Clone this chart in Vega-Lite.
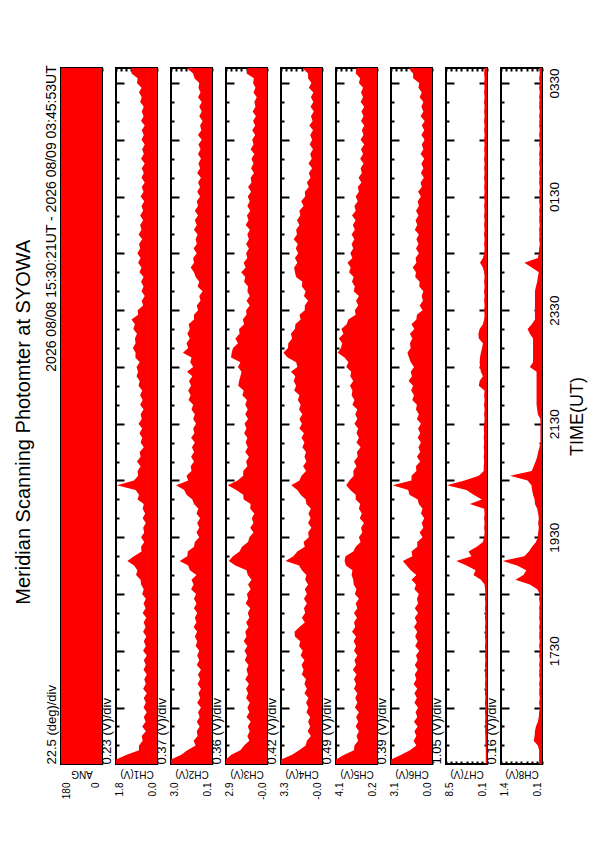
{
"$schema": "https://vega.github.io/schema/vega-lite/v6.json",
"padding": {"left": 13, "top": 64, "right": 5, "bottom": 5},
"background": "white",
"title": {"text": "Meridian Scanning Photomter at SYOWA", "orient": "left", "anchor": "middle", "fontSize": 20, "offset": 10, "dx": 10},
"datasets": {
"ang": [{"m":0.35,"ang":180},{"m":735.88,"ang":180}],
"d": [
{"m":0,"c1":1.8,"c2":3.03,"c3":2.86,"c4":3.32,"c5":4.09,"c6":3.12,"c7":0.35,"c8":0.19},
{"m":5,"c1":1.8,"c2":3.03,"c3":2.86,"c4":3.32,"c5":4.09,"c6":3.12,"c7":0.35,"c8":0.19},
{"m":10,"c1":1.33,"c2":2.29,"c3":2.49,"c4":2.41,"c5":3.31,"c6":2.34,"c7":0.35,"c8":0.19},
{"m":15,"c1":0.79,"c2":1.85,"c3":1.85,"c4":1.84,"c5":2.37,"c6":1.68,"c7":0.35,"c8":0.19},
{"m":20,"c1":0.79,"c2":1.25,"c3":1.59,"c4":1.30,"c5":2.33,"c6":1.19,"c7":0.4,"c8":0.23},
{"m":25,"c1":0.63,"c2":1.40,"c3":1.22,"c4":1.20,"c5":1.97,"c6":1.40,"c7":0.44,"c8":0.36},
{"m":30,"c1":0.67,"c2":1.11,"c3":1.36,"c4":0.87,"c5":2.13,"c6":1.19,"c7":0.44,"c8":0.33},
{"m":35,"c1":0.49,"c2":1.17,"c3":1.19,"c4":1.14,"c5":1.90,"c6":1.34,"c7":0.5,"c8":0.32},
{"m":40,"c1":0.65,"c2":0.96,"c3":1.33,"c4":0.93,"c5":2.21,"c6":1.09,"c7":0.44,"c8":0.29},
{"m":45,"c1":0.50,"c2":1.17,"c3":1.13,"c4":1.10,"c5":1.97,"c6":1.37,"c7":0.5,"c8":0.23},
{"m":50,"c1":0.58,"c2":0.96,"c3":1.42,"c4":0.93,"c5":2.17,"c6":1.12,"c7":0.44,"c8":0.20},
{"m":55,"c1":0.45,"c2":1.08,"c3":1.22,"c4":1.24,"c5":1.90,"c6":1.25,"c7":0.52,"c8":0.19},
{"m":60,"c1":0.59,"c2":0.87,"c3":1.36,"c4":1.07,"c5":2.29,"c6":1.06,"c7":0.44,"c8":0.17},
{"m":65,"c1":0.49,"c2":1.14,"c3":1.19,"c4":1.27,"c5":2.05,"c6":1.34,"c7":0.52,"c8":0.19},
{"m":70,"c1":0.58,"c2":0.93,"c3":1.45,"c4":1.07,"c5":2.25,"c6":1.15,"c7":0.44,"c8":0.17},
{"m":75,"c1":0.45,"c2":1.05,"c3":1.31,"c4":1.40,"c5":2.05,"c6":1.34,"c7":0.52,"c8":0.19},
{"m":80,"c1":0.61,"c2":0.87,"c3":1.45,"c4":1.20,"c5":2.37,"c6":1.12,"c7":0.44,"c8":0.17},
{"m":85,"c1":0.49,"c2":1.11,"c3":1.25,"c4":1.40,"c5":2.17,"c6":1.40,"c7":0.52,"c8":0.19},
{"m":90,"c1":0.56,"c2":0.93,"c3":1.51,"c4":1.27,"c5":2.37,"c6":1.19,"c7":0.44,"c8":0.17},
{"m":95,"c1":0.45,"c2":1.08,"c3":1.31,"c4":1.61,"c5":2.13,"c6":1.31,"c7":0.52,"c8":0.19},
{"m":100,"c1":0.59,"c2":0.87,"c3":1.42,"c4":1.47,"c5":2.48,"c6":1.09,"c7":0.44,"c8":0.17},
{"m":105,"c1":0.49,"c2":1.17,"c3":1.28,"c4":1.64,"c5":2.17,"c6":1.31,"c7":0.52,"c8":0.19},
{"m":110,"c1":0.58,"c2":0.99,"c3":1.54,"c4":1.40,"c5":2.33,"c6":1.09,"c7":0.44,"c8":0.17},
{"m":115,"c1":0.45,"c2":1.14,"c3":1.39,"c4":1.71,"c5":2.05,"c6":1.22,"c7":0.52,"c8":0.19},
{"m":120,"c1":0.61,"c2":0.99,"c3":1.56,"c4":1.54,"c5":2.37,"c6":0.97,"c7":0.44,"c8":0.17},
{"m":125,"c1":0.49,"c2":1.25,"c3":1.36,"c4":1.84,"c5":2.17,"c6":1.28,"c7":0.52,"c8":0.19},
{"m":130,"c1":0.58,"c2":1.14,"c3":1.62,"c4":1.74,"c5":2.40,"c6":1.09,"c7":0.44,"c8":0.17},
{"m":135,"c1":0.47,"c2":1.31,"c3":1.42,"c4":2.18,"c5":2.17,"c6":1.28,"c7":0.52,"c8":0.19},
{"m":140,"c1":0.61,"c2":1.14,"c3":1.51,"c4":2.21,"c5":2.56,"c6":1.12,"c7":0.44,"c8":0.17},
{"m":145,"c1":0.50,"c2":1.40,"c3":1.28,"c4":1.81,"c5":2.25,"c6":1.37,"c7":0.52,"c8":0.19},
{"m":150,"c1":0.59,"c2":1.19,"c3":1.45,"c4":1.37,"c5":2.37,"c6":1.15,"c7":0.44,"c8":0.17},
{"m":155,"c1":0.47,"c2":1.31,"c3":1.22,"c4":1.61,"c5":2.09,"c6":1.31,"c7":0.52,"c8":0.19},
{"m":160,"c1":0.63,"c2":1.14,"c3":1.33,"c4":1.34,"c5":2.37,"c6":1.06,"c7":0.44,"c8":0.17},
{"m":165,"c1":0.50,"c2":1.37,"c3":1.16,"c4":1.44,"c5":2.05,"c6":1.31,"c7":0.52,"c8":0.19},
{"m":170,"c1":0.59,"c2":1.19,"c3":1.48,"c4":1.20,"c5":2.21,"c6":1.06,"c7":0.44,"c8":0.17},
{"m":175,"c1":0.49,"c2":1.37,"c3":1.31,"c4":1.44,"c5":1.90,"c6":1.15,"c7":0.52,"c8":0.19},
{"m":180,"c1":0.65,"c2":1.22,"c3":1.39,"c4":1.20,"c5":2.29,"c6":1.00,"c7":0.44,"c8":0.17},
{"m":185,"c1":0.58,"c2":1.58,"c3":1.13,"c4":1.37,"c5":2.13,"c6":1.34,"c7":0.5,"c8":0.25},
{"m":190,"c1":0.70,"c2":1.40,"c3":1.31,"c4":1.10,"c5":2.40,"c6":1.22,"c7":0.6,"c8":0.48},
{"m":195,"c1":0.72,"c2":1.55,"c3":1.07,"c4":1.34,"c5":2.44,"c6":1.56,"c7":1.36,"c8":0.93},
{"m":200,"c1":0.92,"c2":1.19,"c3":1.33,"c4":1.24,"c5":2.60,"c6":1.19,"c7":2.87,"c8":0.68},
{"m":205,"c1":0.86,"c2":1.67,"c3":1.42,"c4":1.61,"c5":2.52,"c6":1.62,"c7":2.45,"c8":0.59},
{"m":210,"c1":1.01,"c2":1.79,"c3":2.20,"c4":1.84,"c5":3.15,"c6":1.93,"c7":4.3,"c8":0.88},
{"m":215,"c1":1.30,"c2":2.41,"c3":2.66,"c4":2.95,"c5":3.27,"c6":2.22,"c7":6.4,"c8":1.33},
{"m":220,"c1":1.01,"c2":1.85,"c3":2.37,"c4":2.31,"c5":3.19,"c6":1.50,"c7":3.29,"c8":0.65},
{"m":225,"c1":0.68,"c2":1.82,"c3":1.91,"c4":1.98,"c5":2.44,"c6":1.56,"c7":3.88,"c8":0.51},
{"m":230,"c1":0.70,"c2":1.37,"c3":1.74,"c4":1.37,"c5":2.21,"c6":1.12,"c7":2.2,"c8":0.41},
{"m":235,"c1":0.56,"c2":1.31,"c3":1.31,"c4":1.47,"c5":1.74,"c6":1.12,"c7":0.94,"c8":0.29},
{"m":240,"c1":0.70,"c2":0.99,"c3":1.22,"c4":1.04,"c5":1.90,"c6":0.72,"c7":0.69,"c8":0.23},
{"m":245,"c1":0.56,"c2":1.19,"c3":0.93,"c4":1.10,"c5":1.58,"c6":0.94,"c7":0.6,"c8":0.22},
{"m":250,"c1":0.61,"c2":0.99,"c3":1.16,"c4":0.83,"c5":1.70,"c6":0.66,"c7":0.69,"c8":0.2},
{"m":255,"c1":0.49,"c2":1.14,"c3":0.93,"c4":1.10,"c5":1.42,"c6":0.78,"c7":0.6,"c8":0.22},
{"m":260,"c1":0.63,"c2":0.93,"c3":1.05,"c4":0.90,"c5":1.82,"c6":0.59,"c7":0.69,"c8":0.2},
{"m":265,"c1":0.52,"c2":1.19,"c3":0.87,"c4":1.07,"c5":1.62,"c6":0.84,"c7":0.6,"c8":0.22},
{"m":270,"c1":0.63,"c2":1.05,"c3":1.16,"c4":0.87,"c5":1.90,"c6":0.72,"c7":0.69,"c8":0.25},
{"m":275,"c1":0.58,"c2":1.37,"c3":1.13,"c4":1.24,"c5":1.78,"c6":1.00,"c7":3.63,"c8":0.32},
{"m":280,"c1":0.85,"c2":1.49,"c3":1.62,"c4":1.30,"c5":2.21,"c6":1.09,"c7":1.15,"c8":0.33},
{"m":285,"c1":0.79,"c2":1.91,"c3":1.65,"c4":1.71,"c5":2.21,"c6":1.72,"c7":2.87,"c8":0.38},
{"m":290,"c1":0.94,"c2":2.08,"c3":2.14,"c4":1.98,"c5":2.72,"c6":1.81,"c7":4.3,"c8":0.41},
{"m":295,"c1":1.76,"c2":2.66,"c3":2.74,"c4":2.48,"c5":3.11,"c6":3.0,"c7":8.33,"c8":0.43},
{"m":300,"c1":1.01,"c2":1.79,"c3":2.05,"c4":1.81,"c5":2.80,"c6":1.56,"c7":4.72,"c8":0.55},
{"m":305,"c1":0.83,"c2":1.91,"c3":1.65,"c4":1.64,"c5":2.40,"c6":1.56,"c7":1.78,"c8":1.1},
{"m":310,"c1":0.85,"c2":1.55,"c3":1.65,"c4":1.27,"c5":2.44,"c6":1.19,"c7":0.77,"c8":0.42},
{"m":315,"c1":0.72,"c2":1.61,"c3":1.36,"c4":1.51,"c5":2.13,"c6":1.22,"c7":0.77,"c8":0.36},
{"m":320,"c1":0.88,"c2":1.37,"c3":1.45,"c4":1.24,"c5":2.37,"c6":0.90,"c7":0.69,"c8":0.30},
{"m":325,"c1":0.72,"c2":1.58,"c3":1.25,"c4":1.40,"c5":2.01,"c6":1.15,"c7":0.77,"c8":0.25},
{"m":330,"c1":0.76,"c2":1.37,"c3":1.51,"c4":1.27,"c5":2.09,"c6":0.90,"c7":0.69,"c8":0.22},
{"m":335,"c1":0.58,"c2":1.52,"c3":1.33,"c4":1.57,"c5":1.74,"c6":1.03,"c7":0.77,"c8":0.18},
{"m":340,"c1":0.72,"c2":1.31,"c3":1.48,"c4":1.40,"c5":2.13,"c6":0.84,"c7":0.69,"c8":0.15},
{"m":345,"c1":0.65,"c2":1.58,"c3":1.36,"c4":1.64,"c5":1.90,"c6":1.09,"c7":0.77,"c8":0.15},
{"m":350,"c1":0.77,"c2":1.34,"c3":1.59,"c4":1.44,"c5":2.13,"c6":0.90,"c7":0.69,"c8":0.15},
{"m":355,"c1":0.65,"c2":1.43,"c3":1.42,"c4":1.81,"c5":1.97,"c6":1.06,"c7":0.77,"c8":0.15},
{"m":360,"c1":0.81,"c2":1.22,"c3":1.56,"c4":1.61,"c5":2.33,"c6":0.84,"c7":0.69,"c8":0.15},
{"m":365,"c1":0.67,"c2":1.43,"c3":1.31,"c4":1.81,"c5":2.05,"c6":1.15,"c7":0.6,"c8":0.15},
{"m":370,"c1":0.72,"c2":1.31,"c3":1.51,"c4":1.57,"c5":2.25,"c6":1.00,"c7":0.69,"c8":0.23},
{"m":375,"c1":0.59,"c2":1.55,"c3":1.33,"c4":1.84,"c5":2.05,"c6":1.22,"c7":0.6,"c8":0.25},
{"m":380,"c1":0.74,"c2":1.43,"c3":1.51,"c4":1.71,"c5":2.52,"c6":1.15,"c7":0.69,"c8":0.27},
{"m":385,"c1":0.63,"c2":1.76,"c3":1.39,"c4":1.94,"c5":2.33,"c6":1.50,"c7":0.6,"c8":0.27},
{"m":390,"c1":0.74,"c2":1.61,"c3":1.71,"c4":1.81,"c5":2.60,"c6":1.37,"c7":0.69,"c8":0.27},
{"m":395,"c1":0.65,"c2":1.79,"c3":1.62,"c4":2.24,"c5":2.52,"c6":1.59,"c7":0.6,"c8":0.27},
{"m":400,"c1":0.81,"c2":1.58,"c3":2.00,"c4":2.08,"c5":2.76,"c6":1.44,"c7":1.78,"c8":0.27},
{"m":405,"c1":0.76,"c2":1.73,"c3":1.94,"c4":2.28,"c5":2.44,"c6":1.78,"c7":1.61,"c8":0.27},
{"m":410,"c1":0.90,"c2":1.49,"c3":1.85,"c4":2.14,"c5":2.72,"c6":1.53,"c7":0.94,"c8":0.27},
{"m":415,"c1":0.83,"c2":1.88,"c3":1.77,"c4":2.51,"c5":2.64,"c6":1.62,"c7":1.36,"c8":0.27},
{"m":420,"c1":0.90,"c2":1.43,"c3":2.02,"c4":1.98,"c5":3.11,"c6":1.37,"c7":1.53,"c8":0.48},
{"m":425,"c1":0.76,"c2":1.64,"c3":1.85,"c4":2.08,"c5":2.91,"c6":1.62,"c7":1.61,"c8":0.38},
{"m":430,"c1":0.95,"c2":1.55,"c3":2.51,"c4":2.78,"c5":3.27,"c6":1.75,"c7":1.53,"c8":0.38},
{"m":435,"c1":0.94,"c2":2.17,"c3":2.46,"c4":3.12,"c5":3.93,"c6":1.87,"c7":1.36,"c8":0.38},
{"m":440,"c1":1.06,"c2":1.79,"c3":2.37,"c4":2.75,"c5":3.62,"c6":1.62,"c7":1.11,"c8":0.38},
{"m":445,"c1":0.94,"c2":1.91,"c3":2.02,"c4":2.72,"c5":3.50,"c6":1.68,"c7":0.94,"c8":0.38},
{"m":450,"c1":0.97,"c2":1.67,"c3":2.20,"c4":2.41,"c5":3.82,"c6":1.50,"c7":1.78,"c8":0.38},
{"m":455,"c1":0.88,"c2":1.85,"c3":1.91,"c4":2.51,"c5":3.38,"c6":1.68,"c7":1.86,"c8":0.48},
{"m":460,"c1":1.04,"c2":1.67,"c3":1.94,"c4":2.18,"c5":3.58,"c6":1.34,"c7":1.61,"c8":0.55},
{"m":465,"c1":0.97,"c2":1.76,"c3":1.59,"c4":2.14,"c5":3.07,"c6":1.56,"c7":0.94,"c8":0.42},
{"m":470,"c1":1.12,"c2":1.37,"c3":1.68,"c4":1.71,"c5":2.91,"c6":1.19,"c7":0.69,"c8":0.32},
{"m":475,"c1":0.83,"c2":1.37,"c3":1.42,"c4":1.81,"c5":2.21,"c6":1.15,"c7":0.6,"c8":0.32},
{"m":480,"c1":0.85,"c2":1.08,"c3":1.45,"c4":1.37,"c5":2.29,"c6":0.72,"c7":0.69,"c8":0.32},
{"m":485,"c1":0.61,"c2":1.17,"c3":1.19,"c4":1.37,"c5":1.97,"c6":0.94,"c7":0.6,"c8":0.32},
{"m":490,"c1":0.67,"c2":0.90,"c3":1.42,"c4":1.10,"c5":2.17,"c6":0.69,"c7":0.69,"c8":0.32},
{"m":495,"c1":0.54,"c2":0.99,"c3":1.19,"c4":1.44,"c5":1.90,"c6":0.78,"c7":0.6,"c8":0.32},
{"m":500,"c1":0.68,"c2":0.75,"c3":1.36,"c4":1.30,"c5":2.40,"c6":0.66,"c7":0.69,"c8":0.32},
{"m":505,"c1":0.59,"c2":1.11,"c3":1.31,"c4":1.61,"c5":2.29,"c6":0.97,"c7":0.6,"c8":0.29},
{"m":510,"c1":0.70,"c2":0.99,"c3":1.59,"c4":1.57,"c5":2.56,"c6":0.94,"c7":0.69,"c8":0.25},
{"m":515,"c1":0.59,"c2":1.25,"c3":1.51,"c4":2.08,"c5":2.40,"c6":1.28,"c7":0.6,"c8":0.23},
{"m":520,"c1":0.77,"c2":1.37,"c3":1.79,"c4":2.18,"c5":2.84,"c6":1.22,"c7":0.69,"c8":0.20},
{"m":525,"c1":0.68,"c2":1.61,"c3":1.48,"c4":2.24,"c5":2.68,"c6":1.47,"c7":0.94,"c8":0.42},
{"m":530,"c1":0.83,"c2":1.37,"c3":1.62,"c4":1.98,"c5":2.99,"c6":1.19,"c7":1.53,"c8":0.65},
{"m":535,"c1":0.72,"c2":1.43,"c3":1.36,"c4":2.18,"c5":2.52,"c6":1.25,"c7":0.94,"c8":0.23},
{"m":540,"c1":0.86,"c2":1.17,"c3":1.45,"c4":1.91,"c5":2.72,"c6":1.00,"c7":0.69,"c8":0.20},
{"m":545,"c1":0.74,"c2":1.40,"c3":1.25,"c4":2.11,"c5":2.44,"c6":1.22,"c7":0.6,"c8":0.19},
{"m":550,"c1":0.79,"c2":1.17,"c3":1.45,"c4":1.94,"c5":2.60,"c6":1.03,"c7":0.69,"c8":0.17},
{"m":555,"c1":0.65,"c2":1.25,"c3":1.25,"c4":2.28,"c5":2.33,"c6":1.19,"c7":0.6,"c8":0.19},
{"m":560,"c1":0.81,"c2":1.11,"c3":1.36,"c4":2.01,"c5":2.60,"c6":1.00,"c7":0.69,"c8":0.17},
{"m":565,"c1":0.68,"c2":1.37,"c3":1.19,"c4":2.08,"c5":2.29,"c6":1.31,"c7":0.6,"c8":0.19},
{"m":570,"c1":0.74,"c2":1.17,"c3":1.48,"c4":1.81,"c5":2.48,"c6":1.12,"c7":0.69,"c8":0.17},
{"m":575,"c1":0.61,"c2":1.31,"c3":1.28,"c4":2.01,"c5":2.21,"c6":1.25,"c7":0.6,"c8":0.19},
{"m":580,"c1":0.74,"c2":1.08,"c3":1.39,"c4":1.74,"c5":2.56,"c6":1.03,"c7":0.69,"c8":0.17},
{"m":585,"c1":0.61,"c2":1.31,"c3":1.16,"c4":1.81,"c5":2.21,"c6":1.22,"c7":0.6,"c8":0.19},
{"m":590,"c1":0.68,"c2":1.08,"c3":1.36,"c4":1.47,"c5":2.33,"c6":1.00,"c7":0.69,"c8":0.17},
{"m":595,"c1":0.56,"c2":1.17,"c3":1.19,"c4":1.67,"c5":2.01,"c6":1.09,"c7":0.6,"c8":0.19},
{"m":600,"c1":0.72,"c2":0.93,"c3":1.33,"c4":1.34,"c5":2.21,"c6":0.84,"c7":0.69,"c8":0.17},
{"m":605,"c1":0.59,"c2":1.14,"c3":1.10,"c4":1.37,"c5":1.90,"c6":1.06,"c7":0.6,"c8":0.19},
{"m":610,"c1":0.67,"c2":0.93,"c3":1.31,"c4":1.04,"c5":2.01,"c6":0.78,"c7":0.69,"c8":0.17},
{"m":615,"c1":0.54,"c2":1.08,"c3":1.07,"c4":1.20,"c5":1.66,"c6":0.87,"c7":0.6,"c8":0.19},
{"m":620,"c1":0.68,"c2":0.87,"c3":1.13,"c4":0.90,"c5":1.93,"c6":0.62,"c7":0.69,"c8":0.17},
{"m":625,"c1":0.58,"c2":1.14,"c3":0.90,"c4":1.04,"c5":1.62,"c6":0.84,"c7":0.6,"c8":0.19},
{"m":630,"c1":0.67,"c2":0.93,"c3":1.10,"c4":0.77,"c5":1.74,"c6":0.66,"c7":0.69,"c8":0.17},
{"m":635,"c1":0.54,"c2":1.05,"c3":0.93,"c4":1.07,"c5":1.46,"c6":0.81,"c7":0.6,"c8":0.19},
{"m":640,"c1":0.70,"c2":0.87,"c3":1.07,"c4":0.80,"c5":1.78,"c6":0.59,"c7":0.69,"c8":0.17},
{"m":645,"c1":0.58,"c2":1.08,"c3":0.87,"c4":0.93,"c5":1.50,"c6":0.87,"c7":0.6,"c8":0.19},
{"m":650,"c1":0.65,"c2":0.90,"c3":1.13,"c4":0.70,"c5":1.70,"c6":0.66,"c7":0.69,"c8":0.17},
{"m":655,"c1":0.54,"c2":1.05,"c3":0.93,"c4":0.97,"c5":1.39,"c6":0.78,"c7":0.6,"c8":0.19},
{"m":660,"c1":0.68,"c2":0.81,"c3":1.02,"c4":0.77,"c5":1.74,"c6":0.56,"c7":0.69,"c8":0.17},
{"m":665,"c1":0.58,"c2":1.08,"c3":0.81,"c4":0.93,"c5":1.46,"c6":0.81,"c7":0.6,"c8":0.19},
{"m":670,"c1":0.67,"c2":0.84,"c3":1.02,"c4":0.70,"c5":1.62,"c6":0.59,"c7":0.69,"c8":0.17},
{"m":675,"c1":0.54,"c2":0.93,"c3":0.81,"c4":1.00,"c5":1.39,"c6":0.78,"c7":0.6,"c8":0.19},
{"m":680,"c1":0.70,"c2":0.75,"c3":0.96,"c4":0.73,"c5":1.70,"c6":0.56,"c7":0.69,"c8":0.17},
{"m":685,"c1":0.59,"c2":0.99,"c3":0.76,"c4":0.87,"c5":1.46,"c6":0.87,"c7":0.6,"c8":0.19},
{"m":690,"c1":0.67,"c2":0.81,"c3":0.99,"c4":0.63,"c5":1.66,"c6":0.66,"c7":0.69,"c8":0.17},
{"m":695,"c1":0.58,"c2":0.99,"c3":0.79,"c4":0.90,"c5":1.39,"c6":0.81,"c7":0.6,"c8":0.19},
{"m":700,"c1":0.74,"c2":0.81,"c3":0.87,"c4":0.67,"c5":1.74,"c6":0.66,"c7":0.69,"c8":0.17},
{"m":705,"c1":0.67,"c2":1.08,"c3":0.70,"c4":0.87,"c5":1.50,"c6":0.94,"c7":0.6,"c8":0.19},
{"m":710,"c1":0.79,"c2":0.90,"c3":0.93,"c4":0.67,"c5":1.70,"c6":0.78,"c7":0.69,"c8":0.17},
{"m":715,"c1":0.68,"c2":1.05,"c3":0.79,"c4":1.04,"c5":1.50,"c6":1.03,"c7":0.6,"c8":0.19},
{"m":720,"c1":0.88,"c2":0.99,"c3":0.96,"c4":0.83,"c5":1.90,"c6":0.97,"c7":0.69,"c8":0.17},
{"m":725,"c1":0.85,"c2":1.34,"c3":0.90,"c4":1.10,"c5":1.78,"c6":1.44,"c7":0.6,"c8":0.19},
{"m":730,"c1":1.12,"c2":1.43,"c3":1.42,"c4":1.10,"c5":2.21,"c6":1.44,"c7":0.69,"c8":0.17},
{"m":735,"c1":1.13,"c2":1.85,"c3":1.36,"c4":1.51,"c5":2.13,"c6":1.75,"c7":0.6,"c8":0.19},
{"m":736,"c1":1.13,"c2":1.85,"c3":1.36,"c4":1.51,"c5":2.13,"c6":1.75,"c7":0.6,"c8":0.19}
]},
"spacing": 14,
"bounds": "flush",
"hconcat": [
{"width": 41, "height": 696, "data": {"name": "ang"},
 "title": {"text": "2026 08/08 15:30:21UT - 2026 08/09 03:45:53UT", "orient": "left", "anchor": "end", "fontSize": 14, "offset": -14},
 "layer": [
  {"mark": {"type": "area", "orient": "horizontal", "color": "#ff0000", "clip": true},
   "encoding": {
    "y": {"field": "m", "type": "quantitative", "scale": {"domain": [0.35, 735.88], "nice": false, "zero": false},
      "axis": {"orient": "left", "tickCount": 37, "tickSize": {"condition": {"test": "datum.value % 60 === 0", "value": -8}, "value": -3}, "title": "22.5 (deg)/div"}},
    "x": {"field": "ang", "type": "quantitative", "stack": null, "scale": {"domain": [0, 180], "reverse": true, "nice": false, "zero": false},
      "axis": {"orient": "bottom", "values": [0,22.5,45,67.5,90,112.5,135,157.5,180], "labelExpr": "datum.index == 0 ? '0' : datum.index == 1 ? '180' : ''", "labelOffset": {"condition": {"test": "datum.index == 0", "value": -7}, "value": 5}, "title": "ANG"}},
    "x2": {"datum": 0}}},
  {"mark": {"type": "point", "opacity": 0},
   "encoding": {
    "y": {"field": "m", "type": "quantitative", "axis": {"orient": "right", "tickCount": 37, "tickSize": {"condition": {"test": "datum.value % 60 === 0", "value": -8}, "value": -3}, "title": null}},
    "x": {"field": "ang", "type": "quantitative", "axis": {"orient": "top", "values": [0,22.5,45,67.5,90,112.5,135,157.5,180], "title": null}}}}
 ],
 "resolve": {"axis": {"x": "independent", "y": "independent"}}},
{"width": 41, "height": 696, "data": {"name": "d"},
 "layer": [
  {"mark": {"type": "area", "orient": "horizontal", "color": "#ff0000", "clip": true},
   "encoding": {
    "y": {"field": "m", "type": "quantitative", "scale": {"domain": [0.35, 735.88], "nice": false, "zero": false},
      "axis": {"orient": "left", "tickCount": 37, "tickSize": {"condition": {"test": "datum.value % 60 === 0", "value": -8}, "value": -3}, "title": "0.23 (V)/div"}},
    "x": {"field": "c1", "type": "quantitative", "stack": null, "scale": {"domain": [0, 1.8], "reverse": true, "nice": false, "zero": false},
      "axis": {"orient": "bottom", "values": [0,0.225,0.45,0.675,0.9,1.125,1.35,1.575,1.8], "labelExpr": "datum.index == 0 ? '0.0' : datum.index == 1 ? '1.8' : ''", "labelOffset": {"condition": {"test": "datum.index == 0", "value": -5}, "value": 3}, "title": "CH1(V)"}},
    "x2": {"datum": 0}}},
  {"mark": {"type": "point", "opacity": 0},
   "encoding": {
    "y": {"field": "m", "type": "quantitative", "axis": {"orient": "right", "tickCount": 37, "tickSize": {"condition": {"test": "datum.value % 60 === 0", "value": -8}, "value": -3}, "title": null}},
    "x": {"field": "c1", "type": "quantitative", "axis": {"orient": "top", "values": [0,0.225,0.45,0.675,0.9,1.125,1.35,1.575,1.8], "title": null}}}}
 ],
 "resolve": {"axis": {"x": "independent", "y": "independent"}}},
{"width": 41, "height": 696, "data": {"name": "d"},
 "layer": [
  {"mark": {"type": "area", "orient": "horizontal", "color": "#ff0000", "clip": true},
   "encoding": {
    "y": {"field": "m", "type": "quantitative", "scale": {"domain": [0.35, 735.88], "nice": false, "zero": false},
      "axis": {"orient": "left", "tickCount": 37, "tickSize": {"condition": {"test": "datum.value % 60 === 0", "value": -8}, "value": -3}, "title": "0.37 (V)/div"}},
    "x": {"field": "c2", "type": "quantitative", "stack": null, "scale": {"domain": [0.07, 3.03], "reverse": true, "nice": false, "zero": false},
      "axis": {"orient": "bottom", "values": [0.07,0.44,0.81,1.18,1.55,1.92,2.29,2.66,3.03], "labelExpr": "datum.index == 0 ? '0.1' : datum.index == 1 ? '3.0' : ''", "labelOffset": {"condition": {"test": "datum.index == 0", "value": -5}, "value": 3}, "title": "CH2(V)"}},
    "x2": {"datum": 0.07}}},
  {"mark": {"type": "point", "opacity": 0},
   "encoding": {
    "y": {"field": "m", "type": "quantitative", "axis": {"orient": "right", "tickCount": 37, "tickSize": {"condition": {"test": "datum.value % 60 === 0", "value": -8}, "value": -3}, "title": null}},
    "x": {"field": "c2", "type": "quantitative", "axis": {"orient": "top", "values": [0.07,0.44,0.81,1.18,1.55,1.92,2.29,2.66,3.03], "title": null}}}}
 ],
 "resolve": {"axis": {"x": "independent", "y": "independent"}}},
{"width": 41, "height": 696, "data": {"name": "d"},
 "layer": [
  {"mark": {"type": "area", "orient": "horizontal", "color": "#ff0000", "clip": true},
   "encoding": {
    "y": {"field": "m", "type": "quantitative", "scale": {"domain": [0.35, 735.88], "nice": false, "zero": false},
      "axis": {"orient": "left", "tickCount": 37, "tickSize": {"condition": {"test": "datum.value % 60 === 0", "value": -8}, "value": -3}, "title": "0.36 (V)/div"}},
    "x": {"field": "c3", "type": "quantitative", "stack": null, "scale": {"domain": [-0.02, 2.86], "reverse": true, "nice": false, "zero": false},
      "axis": {"orient": "bottom", "values": [-0.02,0.34,0.7,1.06,1.42,1.78,2.14,2.5,2.86], "labelExpr": "datum.index == 0 ? '-0.0' : datum.index == 1 ? '2.9' : ''", "labelOffset": {"condition": {"test": "datum.index == 0", "value": -5}, "value": 3}, "title": "CH3(V)"}},
    "x2": {"datum": -0.02}}},
  {"mark": {"type": "point", "opacity": 0},
   "encoding": {
    "y": {"field": "m", "type": "quantitative", "axis": {"orient": "right", "tickCount": 37, "tickSize": {"condition": {"test": "datum.value % 60 === 0", "value": -8}, "value": -3}, "title": null}},
    "x": {"field": "c3", "type": "quantitative", "axis": {"orient": "top", "values": [-0.02,0.34,0.7,1.06,1.42,1.78,2.14,2.5,2.86], "title": null}}}}
 ],
 "resolve": {"axis": {"x": "independent", "y": "independent"}}},
{"width": 41, "height": 696, "data": {"name": "d"},
 "layer": [
  {"mark": {"type": "area", "orient": "horizontal", "color": "#ff0000", "clip": true},
   "encoding": {
    "y": {"field": "m", "type": "quantitative", "scale": {"domain": [0.35, 735.88], "nice": false, "zero": false},
      "axis": {"orient": "left", "tickCount": 37, "tickSize": {"condition": {"test": "datum.value % 60 === 0", "value": -8}, "value": -3}, "title": "0.42 (V)/div"}},
    "x": {"field": "c4", "type": "quantitative", "stack": null, "scale": {"domain": [-0.04, 3.32], "reverse": true, "nice": false, "zero": false},
      "axis": {"orient": "bottom", "values": [-0.04,0.38,0.8,1.22,1.64,2.06,2.48,2.9,3.32], "labelExpr": "datum.index == 0 ? '-0.0' : datum.index == 1 ? '3.3' : ''", "labelOffset": {"condition": {"test": "datum.index == 0", "value": -5}, "value": 3}, "title": "CH4(V)"}},
    "x2": {"datum": -0.04}}},
  {"mark": {"type": "point", "opacity": 0},
   "encoding": {
    "y": {"field": "m", "type": "quantitative", "axis": {"orient": "right", "tickCount": 37, "tickSize": {"condition": {"test": "datum.value % 60 === 0", "value": -8}, "value": -3}, "title": null}},
    "x": {"field": "c4", "type": "quantitative", "axis": {"orient": "top", "values": [-0.04,0.38,0.8,1.22,1.64,2.06,2.48,2.9,3.32], "title": null}}}}
 ],
 "resolve": {"axis": {"x": "independent", "y": "independent"}}},
{"width": 41, "height": 696, "data": {"name": "d"},
 "layer": [
  {"mark": {"type": "area", "orient": "horizontal", "color": "#ff0000", "clip": true},
   "encoding": {
    "y": {"field": "m", "type": "quantitative", "scale": {"domain": [0.35, 735.88], "nice": false, "zero": false},
      "axis": {"orient": "left", "tickCount": 37, "tickSize": {"condition": {"test": "datum.value % 60 === 0", "value": -8}, "value": -3}, "title": "0.49 (V)/div"}},
    "x": {"field": "c5", "type": "quantitative", "stack": null, "scale": {"domain": [0.17, 4.09], "reverse": true, "nice": false, "zero": false},
      "axis": {"orient": "bottom", "values": [0.17,0.66,1.15,1.64,2.13,2.62,3.11,3.6,4.09], "labelExpr": "datum.index == 0 ? '0.2' : datum.index == 1 ? '4.1' : ''", "labelOffset": {"condition": {"test": "datum.index == 0", "value": -5}, "value": 3}, "title": "CH5(V)"}},
    "x2": {"datum": 0.17}}},
  {"mark": {"type": "point", "opacity": 0},
   "encoding": {
    "y": {"field": "m", "type": "quantitative", "axis": {"orient": "right", "tickCount": 37, "tickSize": {"condition": {"test": "datum.value % 60 === 0", "value": -8}, "value": -3}, "title": null}},
    "x": {"field": "c5", "type": "quantitative", "axis": {"orient": "top", "values": [0.17,0.66,1.15,1.64,2.13,2.62,3.11,3.6,4.09], "title": null}}}}
 ],
 "resolve": {"axis": {"x": "independent", "y": "independent"}}},
{"width": 41, "height": 696, "data": {"name": "d"},
 "layer": [
  {"mark": {"type": "area", "orient": "horizontal", "color": "#ff0000", "clip": true},
   "encoding": {
    "y": {"field": "m", "type": "quantitative", "scale": {"domain": [0.35, 735.88], "nice": false, "zero": false},
      "axis": {"orient": "left", "tickCount": 37, "tickSize": {"condition": {"test": "datum.value % 60 === 0", "value": -8}, "value": -3}, "title": "0.39 (V)/div"}},
    "x": {"field": "c6", "type": "quantitative", "stack": null, "scale": {"domain": [0, 3.12], "reverse": true, "nice": false, "zero": false},
      "axis": {"orient": "bottom", "values": [0,0.39,0.78,1.17,1.56,1.95,2.34,2.73,3.12], "labelExpr": "datum.index == 0 ? '0.0' : datum.index == 1 ? '3.1' : ''", "labelOffset": {"condition": {"test": "datum.index == 0", "value": -5}, "value": 3}, "title": "CH6(V)"}},
    "x2": {"datum": 0}}},
  {"mark": {"type": "point", "opacity": 0},
   "encoding": {
    "y": {"field": "m", "type": "quantitative", "axis": {"orient": "right", "tickCount": 37, "tickSize": {"condition": {"test": "datum.value % 60 === 0", "value": -8}, "value": -3}, "title": null}},
    "x": {"field": "c6", "type": "quantitative", "axis": {"orient": "top", "values": [0,0.39,0.78,1.17,1.56,1.95,2.34,2.73,3.12], "title": null}}}}
 ],
 "resolve": {"axis": {"x": "independent", "y": "independent"}}},
{"width": 41, "height": 696, "data": {"name": "d"},
 "layer": [
  {"mark": {"type": "area", "orient": "horizontal", "color": "#ff0000", "clip": true},
   "encoding": {
    "y": {"field": "m", "type": "quantitative", "scale": {"domain": [0.35, 735.88], "nice": false, "zero": false},
      "axis": {"orient": "left", "tickCount": 37, "tickSize": {"condition": {"test": "datum.value % 60 === 0", "value": -8}, "value": -3}, "title": "1.05 (V)/div"}},
    "x": {"field": "c7", "type": "quantitative", "stack": null, "scale": {"domain": [0.1, 8.5], "reverse": true, "nice": false, "zero": false},
      "axis": {"orient": "bottom", "values": [0.1,1.15,2.2,3.25,4.3,5.35,6.4,7.45,8.5], "labelExpr": "datum.index == 0 ? '0.1' : datum.index == 1 ? '8.5' : ''", "labelOffset": {"condition": {"test": "datum.index == 0", "value": -5}, "value": 3}, "title": "CH7(V)"}},
    "x2": {"datum": 0.1}}},
  {"mark": {"type": "point", "opacity": 0},
   "encoding": {
    "y": {"field": "m", "type": "quantitative", "axis": {"orient": "right", "tickCount": 37, "tickSize": {"condition": {"test": "datum.value % 60 === 0", "value": -8}, "value": -3}, "title": null}},
    "x": {"field": "c7", "type": "quantitative", "axis": {"orient": "top", "values": [0.1,1.15,2.2,3.25,4.3,5.35,6.4,7.45,8.5], "title": null}}}}
 ],
 "resolve": {"axis": {"x": "independent", "y": "independent"}}},
{"width": 41, "height": 696, "data": {"name": "d"},
 "layer": [
  {"mark": {"type": "area", "orient": "horizontal", "color": "#ff0000", "clip": true},
   "encoding": {
    "y": {"field": "m", "type": "quantitative", "scale": {"domain": [0.35, 735.88], "nice": false, "zero": false},
      "axis": {"orient": "left", "tickCount": 37, "tickSize": {"condition": {"test": "datum.value % 60 === 0", "value": -8}, "value": -3}, "title": "0.16 (V)/div"}},
    "x": {"field": "c8", "type": "quantitative", "stack": null, "scale": {"domain": [0.1, 1.38], "reverse": true, "nice": false, "zero": false},
      "axis": {"orient": "bottom", "values": [0.1,0.26,0.42,0.58,0.74,0.9,1.06,1.22,1.38], "labelExpr": "datum.index == 0 ? '0.1' : datum.index == 1 ? '1.4' : ''", "labelOffset": {"condition": {"test": "datum.index == 0", "value": -5}, "value": 3}, "title": "CH8(V)"}},
    "x2": {"datum": 0.1}}},
  {"mark": {"type": "point", "opacity": 0},
   "encoding": {
    "y": {"field": "m", "type": "quantitative", "axis": {"orient": "right", "tickCount": 37, "tickSize": {"condition": {"test": "datum.value % 60 === 0", "value": -8}, "value": -3}, "title": null}},
    "x": {"field": "c8", "type": "quantitative", "axis": {"orient": "top", "values": [0.1,0.26,0.42,0.58,0.74,0.9,1.06,1.22,1.38], "title": null}}}},
  {"mark": {"type": "point", "opacity": 0},
   "encoding": {
    "y": {"field": "m", "type": "quantitative", "axis": {"orient": "right", "values": [0,120,240,360,480,600,720], "ticks": false, "labels": true, "labelExpr": "format((15 + datum.value / 60) % 24, '02d') + '30'", "labelAngle": 270, "labelAlign": "center", "labelBaseline": "top", "labelPadding": 5, "labelFontSize": 13.5, "title": "TIME(UT)", "titleAngle": 270, "titleBaseline": "top", "titleFontSize": 18, "titlePadding": 8}}}}
 ],
 "resolve": {"axis": {"x": "independent", "y": "independent"}}}
],
"config": {
 "font": "Liberation Sans",
 "view": {"stroke": "black", "strokeWidth": 2},
 "title": {"font": "Liberation Sans", "fontWeight": "normal", "color": "black"},
 "axis": {"domain": false, "grid": false, "zindex": 1, "tickColor": "black", "tickWidth": 2, "labelColor": "black", "titleColor": "black", "labelFont": "Liberation Sans", "titleFont": "Liberation Sans", "titleFontWeight": "normal", "labelFlush": false, "labelOverlap": false, "labelBound": false, "minExtent": 0},
 "axisTop": {"labels": false, "tickSize": -3},
 "axisBottom": {"tickSize": -3, "labelAngle": 270, "labelAlign": "right", "labelBaseline": "middle", "labelPadding": 21, "labelFontSize": 10, "titleAngle": 180, "titleY": 9, "titleBaseline": "middle", "titleFontSize": 10},
 "axisLeft": {"labels": false, "titleAnchor": "start", "titlePadding": 2, "titleFontSize": 13},
 "axisRight": {"labels": false}
}
}
